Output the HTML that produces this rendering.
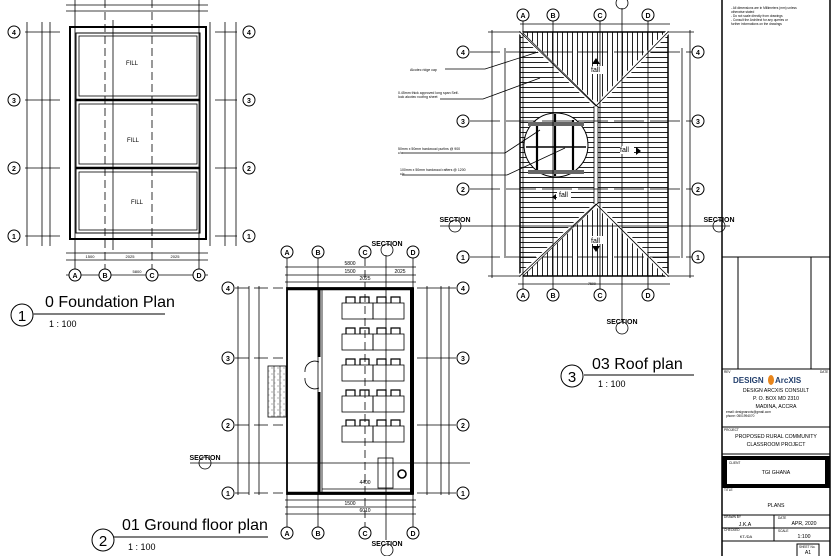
<!DOCTYPE html>
<html><head><meta charset="utf-8"><style>
html,body{margin:0;padding:0;background:#fff}
svg{display:block}
text{font-family:"Liberation Sans",Arial,sans-serif}
</style></head><body>
<svg width="834" height="556" viewBox="0 0 834 556" xmlns="http://www.w3.org/2000/svg">
<defs>
<pattern id="vh" width="5" height="5" patternUnits="userSpaceOnUse"><line x1="2.5" y1="0" x2="2.5" y2="5" stroke="#222" stroke-width="1"/></pattern>
<pattern id="hh" width="5" height="5" patternUnits="userSpaceOnUse"><line x1="0" y1="2.5" x2="5" y2="2.5" stroke="#222" stroke-width="1"/></pattern>
<pattern id="dots" width="6" height="6" patternUnits="userSpaceOnUse"><circle cx="2" cy="2" r="0.5" fill="#333"/><circle cx="5" cy="5" r="0.4" fill="#333"/></pattern>
</defs>
<rect width="834" height="556" fill="#fff"/>

<!-- ============ FOUNDATION PLAN ============ -->
<g stroke="#000" fill="none">
  <!-- dimension lines top -->
  <line x1="66" y1="5" x2="208" y2="5" stroke-width="0.7"/>
  <line x1="66" y1="11" x2="208" y2="11" stroke-width="0.7"/>
  <!-- outer foundation -->
  <rect x="70" y="27" width="136" height="212" stroke-width="2"/>
  <rect x="76" y="33" width="124" height="200" stroke-width="1"/>
  <line x1="76" y1="100" x2="200" y2="100" stroke-width="2.5"/>
  <line x1="76" y1="168" x2="200" y2="168" stroke-width="2.5"/>
  <rect x="79" y="36" width="118" height="60" stroke-width="0.8"/>
  <rect x="79" y="104" width="118" height="60" stroke-width="0.8"/>
  <rect x="79" y="172" width="118" height="58" stroke-width="0.8"/>
  <!-- grid lines -->
  <g stroke-width="0.8">
    <line x1="75" y1="0" x2="75" y2="270"/>
    <line x1="105" y1="0" x2="105" y2="270" stroke-dasharray="8,4"/>
    <line x1="152" y1="0" x2="152" y2="270" stroke-dasharray="8,4"/>
    <line x1="199" y1="0" x2="199" y2="270"/>
    <line x1="113" y1="20" x2="113" y2="250"/>
    <line x1="25" y1="32" x2="60" y2="32"/><line x1="215" y1="32" x2="237" y2="32"/>
    <line x1="25" y1="100" x2="60" y2="100"/><line x1="215" y1="100" x2="237" y2="100"/>
    <line x1="25" y1="168" x2="60" y2="168"/><line x1="215" y1="168" x2="237" y2="168"/>
    <line x1="25" y1="236" x2="60" y2="236"/><line x1="215" y1="236" x2="237" y2="236"/>
    <!-- vertical dims -->
    <line x1="27" y1="22" x2="27" y2="246"/>
    <line x1="42" y1="22" x2="42" y2="246"/>
    <line x1="50" y1="22" x2="50" y2="246"/>
    <line x1="225" y1="22" x2="225" y2="246"/>
    <line x1="236" y1="22" x2="236" y2="246"/>
    <line x1="210" y1="22" x2="210" y2="246"/>
    <line x1="66" y1="260" x2="208" y2="260"/>
    <line x1="66" y1="253" x2="208" y2="253"/>
    <line x1="66" y1="275" x2="208" y2="275"/>
  </g>
  <!-- bubbles -->
  <g stroke-width="1" fill="#fff">
    <circle cx="14" cy="32" r="6"/><circle cx="14" cy="100" r="6"/><circle cx="14" cy="168" r="6"/><circle cx="14" cy="236" r="6"/>
    <circle cx="249" cy="32" r="6"/><circle cx="249" cy="100" r="6"/><circle cx="249" cy="168" r="6"/><circle cx="249" cy="236" r="6"/>
    <circle cx="75" cy="275" r="6"/><circle cx="105" cy="275" r="6"/><circle cx="152" cy="275" r="6"/><circle cx="199" cy="275" r="6"/>
  </g>
</g>
<g font-size="7" text-anchor="middle" font-weight="bold">
  <text x="14" y="35">4</text><text x="14" y="103">3</text><text x="14" y="171">2</text><text x="14" y="239">1</text>
  <text x="249" y="35">4</text><text x="249" y="103">3</text><text x="249" y="171">2</text><text x="249" y="239">1</text>
  <text x="75" y="278">A</text><text x="105" y="278">B</text><text x="152" y="278">C</text><text x="199" y="278">D</text>
</g>
<g font-size="6" text-anchor="middle">
  <text x="132" y="65">FILL</text><text x="133" y="142">FILL</text><text x="137" y="204">FILL</text>
  <text x="90" y="258" font-size="4">1500</text><text x="130" y="258" font-size="4">2025</text><text x="175" y="258" font-size="4">2025</text>
  <text x="137" y="273" font-size="4">5800</text>
</g>
<!-- title -->
<circle cx="22" cy="315" r="11" fill="none" stroke="#000"/>
<text x="22" y="321" font-size="15" text-anchor="middle">1</text>
<text x="45" y="307" font-size="16">0 Foundation Plan</text>
<line x1="33" y1="314" x2="165" y2="314" stroke="#555" stroke-width="1.5"/>
<text x="49" y="327" font-size="9">1 : 100</text>

<!-- ============ GROUND FLOOR PLAN ============ -->
<g stroke="#000" fill="none">
  <g stroke-width="0.8">
    <line x1="287" y1="258" x2="287" y2="528"/>
    <line x1="318" y1="258" x2="318" y2="528"/>
    <line x1="365" y1="258" x2="365" y2="528" stroke-dasharray="8,4"/>
    <line x1="413" y1="258" x2="413" y2="528"/>
    <line x1="386" y1="255" x2="386" y2="540"/>
    <line x1="285" y1="267" x2="416" y2="267"/>
    <line x1="285" y1="275" x2="416" y2="275"/>
    <line x1="285" y1="282" x2="416" y2="282"/>
    <line x1="285" y1="500" x2="416" y2="500"/>
    <line x1="285" y1="507" x2="416" y2="507"/>
    <line x1="285" y1="514" x2="416" y2="514"/>
    <!-- row lines -->
    <line x1="235" y1="288" x2="283" y2="288" stroke-dasharray="14,5"/><line x1="417" y1="288" x2="456" y2="288"/>
    <line x1="235" y1="358" x2="283" y2="358" stroke-dasharray="14,5"/><line x1="417" y1="358" x2="456" y2="358"/>
    <line x1="235" y1="425" x2="283" y2="425" stroke-dasharray="14,5"/><line x1="417" y1="425" x2="456" y2="425"/>
    <line x1="235" y1="493" x2="283" y2="493" stroke-dasharray="14,5"/><line x1="417" y1="493" x2="456" y2="493"/>
    <line x1="190" y1="463" x2="470" y2="463"/>
    <!-- vertical dims -->
    <line x1="238" y1="286" x2="238" y2="495"/>
    <line x1="249" y1="286" x2="249" y2="495"/>
    <line x1="259" y1="286" x2="259" y2="495"/>
    <line x1="441" y1="286" x2="441" y2="495"/>
    <line x1="449" y1="286" x2="449" y2="495"/>
    <line x1="427" y1="286" x2="427" y2="495"/>
  </g>
  <!-- building -->
  <rect x="287" y="288" width="126" height="206" stroke-width="1.8"/>
  <line x1="287" y1="289" x2="413" y2="289" stroke-width="2.5"/>
  <line x1="287" y1="493" x2="413" y2="493" stroke-width="2.5"/>
  <line x1="412" y1="288" x2="412" y2="494" stroke-width="4"/>
  <line x1="319" y1="290" x2="319" y2="357" stroke-width="3"/>
  <line x1="319" y1="392" x2="319" y2="492" stroke-width="3"/>
  <line x1="322" y1="290" x2="322" y2="492" stroke-width="0.8"/>
  <line x1="322" y1="489" x2="410" y2="489" stroke-width="0.8"/>
  <!-- doors -->
  <path d="M319 362 A10 10 0 0 0 305 372 M319 388 A10 10 0 0 1 305 378" stroke-width="0.8"/>
  <!-- ramp -->
  <rect x="268" y="366" width="18" height="51" fill="url(#dots)" stroke-width="0.8"/>
  <line x1="274" y1="366" x2="274" y2="417" stroke-width="0.6"/><line x1="280" y1="366" x2="280" y2="417" stroke-width="0.6"/>
  <!-- desks -->
  <g stroke-width="0.8">
    <rect x="342" y="303" width="31" height="16"/><rect x="373" y="303" width="31" height="16"/>
    <rect x="342" y="334" width="31" height="16"/><rect x="373" y="334" width="31" height="16"/>
    <rect x="342" y="365" width="31" height="16"/><rect x="373" y="365" width="31" height="16"/>
    <rect x="342" y="396" width="31" height="16"/><rect x="373" y="396" width="31" height="16"/>
    <rect x="342" y="426" width="31" height="16"/><rect x="373" y="426" width="31" height="16"/>
    <rect x="378" y="458" width="15" height="30"/>
    <circle cx="402" cy="474" r="4" stroke-width="1.6"/>
  </g>
  <g stroke-width="1.2">
    <path d="M346 303v-6h9v6M360 303v-6h9v6M377 303v-6h9v6M391 303v-6h9v6"/>
    <path d="M346 334v-6h9v6M360 334v-6h9v6M377 334v-6h9v6M391 334v-6h9v6"/>
    <path d="M346 365v-6h9v6M360 365v-6h9v6M377 365v-6h9v6M391 365v-6h9v6"/>
    <path d="M346 396v-6h9v6M360 396v-6h9v6M377 396v-6h9v6M391 396v-6h9v6"/>
    <path d="M346 426v-6h9v6M360 426v-6h9v6M377 426v-6h9v6M391 426v-6h9v6"/>
  </g>
  <g stroke-width="1" fill="#fff">
    <circle cx="228" cy="288" r="6"/><circle cx="228" cy="358" r="6"/><circle cx="228" cy="425" r="6"/><circle cx="228" cy="493" r="6"/>
    <circle cx="463" cy="288" r="6"/><circle cx="463" cy="358" r="6"/><circle cx="463" cy="425" r="6"/><circle cx="463" cy="493" r="6"/>
    <circle cx="287" cy="252" r="6"/><circle cx="318" cy="252" r="6"/><circle cx="365" cy="252" r="6"/><circle cx="413" cy="252" r="6"/>
    <circle cx="287" cy="533" r="6"/><circle cx="318" cy="533" r="6"/><circle cx="365" cy="533" r="6"/><circle cx="413" cy="533" r="6"/>
    <circle cx="463" cy="257" r="6"/>
  </g>
</g>
<g font-size="7" text-anchor="middle" font-weight="bold">
  <text x="228" y="291">4</text><text x="228" y="361">3</text><text x="228" y="428">2</text><text x="228" y="496">1</text>
  <text x="463" y="291">4</text><text x="463" y="361">3</text><text x="463" y="428">2</text><text x="463" y="496">1</text>
  <text x="287" y="255">A</text><text x="318" y="255">B</text><text x="365" y="255">C</text><text x="413" y="255">D</text>
  <text x="287" y="536">A</text><text x="318" y="536">B</text><text x="365" y="536">C</text><text x="413" y="536">D</text>
  <text x="463" y="260">1</text>
</g>
<g font-size="7" font-weight="bold" text-anchor="middle">
  <text x="205" y="460">SECTION</text><text x="719" y="222">SECTION</text><text x="387" y="246">SECTION</text><text x="387" y="546">SECTION</text>
  <text x="455" y="222">SECTION</text><text x="622" y="324">SECTION</text>
</g>
<g stroke="#000" fill="none" stroke-width="0.8">
  <circle cx="205" cy="463" r="6"/><circle cx="387" cy="250" r="6"/><circle cx="387" cy="550" r="6"/>
  <circle cx="455" cy="226" r="6"/><circle cx="719" cy="226" r="6"/><circle cx="622" cy="328" r="6"/><circle cx="622" cy="3" r="6"/>
</g>
<g font-size="5" text-anchor="middle">
  <text x="350" y="273">1500</text><text x="365" y="280">2025</text><text x="400" y="273">2025</text><text x="350" y="265">5800</text>
  <text x="350" y="505">1500</text><text x="365" y="512">6010</text><text x="365" y="484">4400</text>
</g>
<circle cx="103" cy="540" r="11" fill="none" stroke="#000"/>
<text x="103" y="546" font-size="15" text-anchor="middle">2</text>
<text x="122" y="530" font-size="16">01 Ground floor plan</text>
<line x1="114" y1="537" x2="268" y2="537" stroke="#555" stroke-width="1.5"/>
<text x="128" y="550" font-size="9">1 : 100</text>

<!-- ============ ROOF PLAN ============ -->
<g stroke="#000" fill="none">
  <polygon points="520,32 668,32 596,106" fill="url(#vh)" stroke="none"/>
  <polygon points="520,276 668,276 596,204" fill="url(#vh)" stroke="none"/>
  <polygon points="520,32 596,106 596,204 520,276" fill="url(#hh)" stroke="none"/>
  <polygon points="668,32 596,106 596,204 668,276" fill="url(#hh)" stroke="none"/>
  <rect x="520" y="32" width="148" height="244" stroke-width="1.5"/>
  <path d="M520 32L596 106L668 32M520 276L596 204L668 276M596 106V204" stroke="#fff" stroke-width="4"/>
  <path d="M520 32L596 106L668 32M520 276L596 204L668 276M594 106V204M598 106V204" stroke-width="0.8"/>
  <path d="M523 33L598 107M523 276L598 203" stroke-width="0.6"/>
  <circle cx="556" cy="145" r="32" fill="#fff" stroke-width="1"/>
  <g stroke-width="2.2"><line x1="537" y1="122" x2="537" y2="172"/><line x1="555" y1="114" x2="555" y2="176"/><line x1="573" y1="120" x2="573" y2="172"/></g>
  <line x1="526" y1="147" x2="586" y2="147" stroke-width="1.5"/>
  <line x1="528" y1="124" x2="584" y2="124" stroke-width="4" stroke="#666"/>
  <line x1="528" y1="172" x2="584" y2="172" stroke-width="4" stroke="#666"/>
  <g stroke-width="0.8">
    <line x1="523" y1="20" x2="523" y2="290"/><line x1="553" y1="20" x2="553" y2="290"/>
    <line x1="600" y1="20" x2="600" y2="290"/><line x1="648" y1="20" x2="648" y2="290"/>
    <line x1="622" y1="8" x2="622" y2="322"/>
    <line x1="520" y1="24" x2="670" y2="24"/><line x1="518" y1="284" x2="670" y2="284"/>
    <line x1="470" y1="52" x2="692" y2="52" stroke-dasharray="30,6"/>
    <line x1="470" y1="121" x2="692" y2="121" stroke-dasharray="30,6"/>
    <line x1="470" y1="189" x2="692" y2="189" stroke-dasharray="30,6"/>
    <line x1="470" y1="257" x2="692" y2="257" stroke-dasharray="30,6"/>
    <line x1="440" y1="226" x2="730" y2="226"/>
    <line x1="492" y1="30" x2="492" y2="278"/><line x1="505" y1="48" x2="505" y2="258"/>
    <line x1="690" y1="30" x2="690" y2="278"/><line x1="682" y1="48" x2="682" y2="258"/>
    <line x1="488" y1="32" x2="520" y2="32"/><line x1="488" y1="276" x2="520" y2="276"/>
    <line x1="668" y1="32" x2="694" y2="32"/><line x1="668" y1="276" x2="694" y2="276"/>
    <!-- leaders -->
    <path d="M445 69H485L538 52"/>
    <path d="M440 99H483L540 78"/>
    <path d="M402 153H505L540 130"/>
    <path d="M402 175H507L565 148"/>
  </g>
  <g stroke-width="1" fill="#fff">
    <circle cx="463" cy="52" r="6"/><circle cx="463" cy="121" r="6"/><circle cx="463" cy="189" r="6"/><circle cx="463" cy="257" r="6"/>
    <circle cx="698" cy="52" r="6"/><circle cx="698" cy="121" r="6"/><circle cx="698" cy="189" r="6"/><circle cx="698" cy="257" r="6"/>
    <circle cx="523" cy="15" r="6"/><circle cx="553" cy="15" r="6"/><circle cx="600" cy="15" r="6"/><circle cx="648" cy="15" r="6"/>
    <circle cx="523" cy="295" r="6"/><circle cx="553" cy="295" r="6"/><circle cx="600" cy="295" r="6"/><circle cx="648" cy="295" r="6"/>
  </g>
</g>
<g font-size="7" text-anchor="middle" font-weight="bold">
  <text x="463" y="55">4</text><text x="463" y="124">3</text><text x="463" y="192">2</text><text x="463" y="260">1</text>
  <text x="698" y="55">4</text><text x="698" y="124">3</text><text x="698" y="192">2</text><text x="698" y="260">1</text>
  <text x="523" y="18">A</text><text x="553" y="18">B</text><text x="600" y="18">C</text><text x="648" y="18">D</text>
  <text x="523" y="298">A</text><text x="553" y="298">B</text><text x="600" y="298">C</text><text x="648" y="298">D</text>
</g>
<g font-size="7">
  <rect x="590" y="66" width="14" height="8" fill="#fff"/><text x="591" y="72">fall</text>
  <rect x="620" y="146" width="14" height="8" fill="#fff"/><text x="620" y="152">fall</text>
  <rect x="557" y="191" width="14" height="8" fill="#fff"/><text x="559" y="197">fall</text>
  <rect x="590" y="236" width="14" height="8" fill="#fff"/><text x="591" y="243">fall</text>
</g>
<g fill="#000">
  <polygon points="596,58 592,64 600,64"/><polygon points="636,147 636,155 641,151"/>
  <polygon points="556,194 556,200 552,197"/><polygon points="596,252 592,246 600,246"/>
</g>
<g font-size="3.5">
  <text x="410" y="71">Alcotec ridge cap</text>
  <text x="398" y="94">0.45mm thick approved long span Self-</text><text x="398" y="98">lock alcotec roofing sheet</text>
  <text x="398" y="150">50mm x 50mm hardwood purlins @ 900</text><text x="398" y="154">c/c</text>
  <text x="400" y="171">100mm x 50mm hardwood rafters @ 1200</text><text x="400" y="175">c/c</text>
  <text x="588" y="285">7500</text>
</g>
<circle cx="572" cy="376" r="11" fill="none" stroke="#000"/>
<text x="572" y="382" font-size="15" text-anchor="middle">3</text>
<text x="592" y="369" font-size="16">03 Roof plan</text>
<line x1="584" y1="375" x2="694" y2="375" stroke="#555" stroke-width="1.5"/>
<text x="598" y="387" font-size="9">1 : 100</text>

<!-- ============ TITLE BLOCK ============ -->
<g stroke="#000" fill="none">
  <rect x="722" y="-2" width="108" height="560" stroke-width="1.5"/>
  <line x1="722" y1="257" x2="830" y2="257"/>
  <line x1="738" y1="257" x2="738" y2="369"/>
  <line x1="811" y1="257" x2="811" y2="369"/>
  <line x1="722" y1="369" x2="830" y2="369"/>
  <line x1="722" y1="427" x2="830" y2="427"/>
  <line x1="722" y1="454" x2="830" y2="454"/>
  <rect x="722" y="456" width="108" height="32" fill="#000" stroke="none"/>
  <rect x="727" y="460" width="98" height="24" fill="#fff" stroke="none"/>
  <line x1="722" y1="515" x2="830" y2="515"/>
  <line x1="722" y1="528" x2="830" y2="528"/>
  <line x1="722" y1="541" x2="830" y2="541"/>
  <line x1="774" y1="515" x2="774" y2="541"/>
  <rect x="797" y="544" width="22" height="14"/>
</g>
<g font-size="3.2">
  <text x="731" y="9">- All dimensions are in Millimeters (mm) unless</text>
  <text x="731" y="13">otherwise stated</text>
  <text x="731" y="17">- Do not scale directly from drawings</text>
  <text x="731" y="21">- Consult the Architect for any queries or</text>
  <text x="731" y="25">further informations on the drawings</text>
  <text x="724" y="373">REV</text><text x="820" y="373">DATE</text>
  <text x="726" y="413">email: designarcxis@gmail.com</text><text x="726" y="417">phone: 0501994070</text>
  <text x="724" y="431">PROJECT</text><text x="729" y="464">CLIENT</text><text x="724" y="491">TITLE</text>
  <text x="724" y="518">DRAWN BY</text><text x="724" y="531">CHECKED</text><text x="778" y="519">DATE</text><text x="778" y="532">SCALE</text>
  <text x="799" y="548">SHEET No.</text>
</g>
<text x="733" y="383" font-size="8" font-weight="bold" fill="#24406d" font-family="Liberation Serif,serif">DESIGN</text>
<ellipse cx="771" cy="380" rx="3" ry="5" fill="#e8851b"/>
<text x="775" y="383" font-size="8" font-weight="bold" fill="#24406d" font-family="Liberation Serif,serif">ArcXIS</text>
<g font-size="5.2" text-anchor="middle">
  <text x="776" y="392">DESIGN ARCXIS CONSULT</text>
  <text x="776" y="400">P. O. BOX MD 2310</text>
  <text x="776" y="408">MADINA, ACCRA</text>
  <text x="776" y="438">PROPOSED RURAL COMMUNITY</text>
  <text x="776" y="446">CLASSROOM PROJECT</text>
  <text x="776" y="474">TGI GHANA</text>
  <text x="776" y="507">PLANS</text>
  <text x="745" y="526">J.K.A</text>
  <text x="746" y="538" font-size="4">KT./DA</text>
  <text x="804" y="525">APR, 2020</text>
  <text x="804" y="538">1:100</text>
  <text x="808" y="554">A1</text>
</g>
</svg>
</body></html>
